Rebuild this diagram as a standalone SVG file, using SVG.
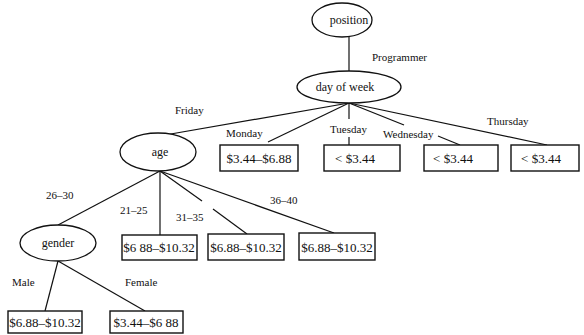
<svg xmlns="http://www.w3.org/2000/svg" width="584" height="335" viewBox="0 0 584 335">
<style>
.n{fill:#fff;stroke:#111;stroke-width:1.3}
.b{fill:#fff;stroke:#111;stroke-width:1.4}
text{font-family:'Liberation Serif','Times New Roman','DejaVu Serif',serif;fill:#111}
.t{font-size:12px}
.bt{font-size:13px}
.l{font-size:11px}
.c line{stroke:#111;stroke-width:1.2}
</style>
<rect width="584" height="335" fill="#fff"/>
<g id="connectors" class="c">
<line x1="349" y1="37" x2="349" y2="71"/>
<line x1="349" y1="103" x2="165" y2="135"/>
<line x1="349" y1="103" x2="268" y2="142"/>
<line x1="349" y1="103" x2="349" y2="119"/>
<line x1="349" y1="137" x2="349" y2="145"/>
<line x1="349" y1="103" x2="404" y2="125"/>
<line x1="438" y1="136" x2="460" y2="145"/>
<line x1="349" y1="103" x2="547" y2="145"/>
<line x1="160" y1="171" x2="58" y2="225"/>
<line x1="160" y1="171" x2="160" y2="235"/>
<line x1="160" y1="171" x2="202" y2="201"/>
<line x1="213" y1="209" x2="247" y2="234"/>
<line x1="160" y1="171" x2="334" y2="233"/>
<line x1="58" y1="261" x2="45" y2="311"/>
<line x1="58" y1="261" x2="145" y2="311"/>
</g>
<g id="position"><ellipse class="n" cx="342" cy="20" rx="30" ry="17"/><text class="t" x="349" y="24" text-anchor="middle">position</text></g>
<g id="dayofweek"><ellipse class="n" cx="349" cy="87" rx="52" ry="16"/><text class="t" x="345" y="91" text-anchor="middle">day of week</text></g>
<g id="age"><ellipse class="n" cx="158" cy="152" rx="38" ry="19"/><text class="t" x="160" y="156" text-anchor="middle">age</text></g>
<g id="gender"><ellipse class="n" cx="58" cy="243" rx="38" ry="18"/><text class="t" x="58" y="247" text-anchor="middle">gender</text></g>
<g id="monday"><rect class="b" x="220" y="145" width="78" height="26"/><text class="bt" x="259" y="163" text-anchor="middle">$3.44–$6.88</text></g>
<g id="tuesday"><rect class="b" x="324" y="145" width="76" height="26"/><text class="bt" x="355" y="163" text-anchor="middle">&lt; $3.44</text></g>
<g id="wednesday"><rect class="b" x="424" y="145" width="74" height="26"/><text class="bt" x="453" y="163" text-anchor="middle">&lt; $3.44</text></g>
<g id="thursday"><rect class="b" x="511" y="145" width="68" height="26"/><text class="bt" x="541" y="163" text-anchor="middle">&lt; $3.44</text></g>
<g id="age21"><rect class="b" x="122" y="235" width="75" height="25"/><text class="bt" x="159" y="252" text-anchor="middle">$6 88–$10.32</text></g>
<g id="age31"><rect class="b" x="208" y="234" width="76" height="26"/><text class="bt" x="246" y="252" text-anchor="middle">$6.88–$10.32</text></g>
<g id="age36"><rect class="b" x="299" y="233" width="76" height="27"/><text class="bt" x="337" y="252" text-anchor="middle">$6.88–$10.32</text></g>
<g id="male"><rect class="b" x="8" y="311" width="74" height="22"/><text class="bt" x="45" y="327" text-anchor="middle">$6.88–$10.32</text></g>
<g id="female"><rect class="b" x="110" y="311" width="73" height="22"/><text class="bt" x="146" y="327" text-anchor="middle">$3.44–$6 88</text></g>
<g id="labels">
<text class="l" x="372" y="61">Programmer</text>
<text class="l" x="175" y="114">Friday</text>
<text class="l" x="226" y="137">Monday</text>
<text class="l" x="330" y="133">Tuesday</text>
<text class="l" x="383" y="138">Wednesday</text>
<text class="l" x="487" y="125">Thursday</text>
<text class="l" x="46" y="199">26–30</text>
<text class="l" x="120" y="214">21–25</text>
<text class="l" x="176" y="221">31–35</text>
<text class="l" x="270" y="204">36–40</text>
<text class="l" x="12" y="286">Male</text>
<text class="l" x="125" y="286">Female</text>
</g>
</svg>
